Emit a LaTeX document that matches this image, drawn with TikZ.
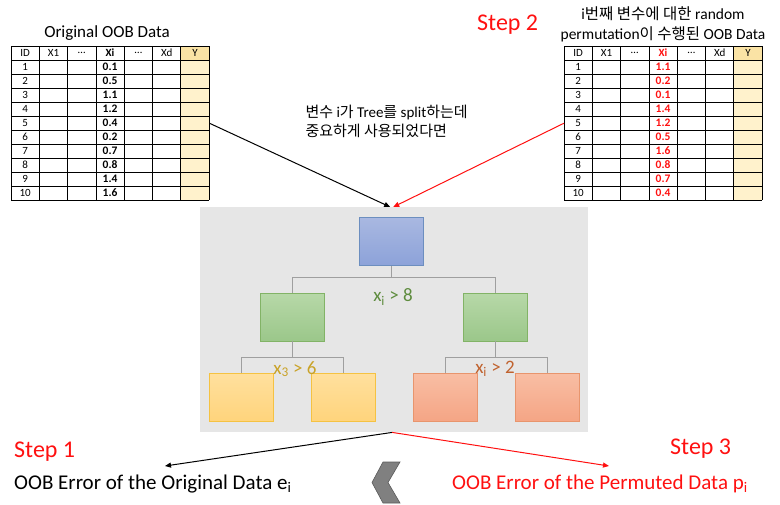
\documentclass[tikz,border=0pt]{standalone}
\usepackage{fontspec}
\setmainfont{Carlito}
\newfontfamily\krfont{Noto Sans CJK KR}
\usetikzlibrary{arrows.meta}
\newcommand{\kr}[1]{{\krfont #1}}
\definecolor{boxgray}{HTML}{E6E6E6}
\definecolor{ycell}{HTML}{FFF2CC}
\definecolor{yhead}{HTML}{FAE3A5}
\definecolor{blueT}{HTML}{A9B8E1}
\definecolor{blueB}{HTML}{8CA2D9}
\definecolor{blueD}{HTML}{6C8EBF}
\definecolor{greenT}{HTML}{B7D8A8}
\definecolor{greenB}{HTML}{9BC78A}
\definecolor{greenD}{HTML}{82B366}
\definecolor{yelT}{HTML}{FFE09E}
\definecolor{yelB}{HTML}{FFD47C}
\definecolor{yelD}{HTML}{F5C242}
\definecolor{salT}{HTML}{F8BEA4}
\definecolor{salB}{HTML}{F5A585}
\definecolor{salD}{HTML}{E8956D}
\definecolor{labgreen}{HTML}{5E8C3E}
\definecolor{labgold}{HTML}{C9A227}
\definecolor{labrust}{HTML}{C0622E}
\definecolor{stepred}{HTML}{FF1010}
\definecolor{chevfill}{HTML}{808080}
\definecolor{chevline}{HTML}{5A5A5A}
\tikzset{
  tabline/.style={draw=black,line width=0.8pt},
  cell/.style={font=\fontsize{11}{12}\selectfont},
  xval/.style={font=\fontsize{11.5}{12}\selectfont\bfseries},
  tnode/.style={minimum width=64pt,minimum height=48pt,inner sep=0pt,line width=0.8pt},
  branch/.style={draw=gray!75,line width=0.9pt},
  cond/.style={font=\fontsize{19}{21}\selectfont},
  steplab/.style={font=\fontsize{24}{26}\selectfont,text=stepred,anchor=west,inner sep=0pt},
  errlab/.style={font=\fontsize{21}{24}\selectfont,anchor=west,inner sep=0pt},
  feed/.style={line width=1pt,-{Triangle[length=6pt,width=5pt]}}
}
% OOB table: #1 left x, #2 name, #3 Xi values, #4 Xi colour
\newcommand{\oobtable}[4]{%
\begin{scope}[shift={(#1,46)}]
  \node[minimum width=198pt,minimum height=154pt,inner sep=0pt,anchor=north west] (#2) at (0,0) {};
  \fill[ycell] (169.8,0) rectangle (198,154);
  \fill[yhead] (169.8,0) rectangle (198,14);
  \foreach \c in {0,...,7} \draw[tabline] (\c*28.3,0) -- (\c*28.3,154);
  \foreach \r in {0,...,11} \draw[tabline] (0,\r*14) -- (198.1,\r*14);
  \foreach \h [count=\c from 0] in {ID,X1,\dots,{\bfseries\color{#4}Xi},\dots,Xd,Y}
    \node[cell] at (\c*28.3+14.15,7) {\h};
  \foreach \v [count=\r] in {#3} {
    \node[cell] at (14.15,\r*14+7) {\r};
    \node[xval,text=#4] at (3*28.3+14.15,\r*14+7) {\v};
  }
\end{scope}}

\begin{document}
\begin{tikzpicture}[x=1pt,y=-1pt]
\useasboundingbox (0,0) rectangle (780,504);
% tables
\node[font=\fontsize{17}{19}\selectfont] (origtitle) at (107,33) {Original OOB Data};
\oobtable{11}{origtab}{0.1,0.5,1.1,1.2,0.4,0.2,0.7,0.8,1.4,1.6}{black}
\node[align=center,font=\fontsize{15.5}{20}\selectfont] (permtitle) at (663,24)
  {i\kr{번째 변수에 대한} random\\permutation\kr{이 수행된} OOB Data};
\oobtable{564}{permtab}{1.1,0.2,0.1,1.4,1.2,0.5,1.6,0.8,0.7,0.4}{stepred}
\node[steplab] (step2) at (477,25) {Step 2};
\node[align=left,anchor=west,font=\fontsize{15}{19}\selectfont] (cond) at (302,121)
  {\kr{변수} i\kr{가} Tree\kr{를} split\kr{하는데}\\\kr{중요하게 사용되었다면}};
% tree
\node[fill=boxgray,minimum width=388pt,minimum height=225pt,inner sep=0pt,anchor=north west] (tree) at (200,207) {};
\node[tnode,draw=blueD,top color=blueT,bottom color=blueB] (root) at (391,241.5) {};
\node[tnode,draw=greenD,top color=greenT,bottom color=greenB] (gL) at (292,317) {};
\node[tnode,draw=greenD,top color=greenT,bottom color=greenB] (gR) at (495.5,317) {};
\node[tnode,draw=yelD,top color=yelT,bottom color=yelB] (yL) at (241.5,397) {};
\node[tnode,draw=yelD,top color=yelT,bottom color=yelB] (yR) at (343.5,397) {};
\node[tnode,draw=salD,top color=salT,bottom color=salB] (sL) at (445.5,397) {};
\node[tnode,draw=salD,top color=salT,bottom color=salB] (sR) at (547,397) {};
\draw[branch] (root.south) -- ++(0,12) -| (gL.north);
\draw[branch] (root.south) -- ++(0,12) -| (gR.north);
\draw[branch] (gL.south) -- ++(0,16) -| (yL.north);
\draw[branch] (gL.south) -- ++(0,16) -| (yR.north);
\draw[branch] (gR.south) -- ++(0,16) -| (sL.north);
\draw[branch] (gR.south) -- ++(0,16) -| (sR.north);
\node[cond,text=labgreen] (c1) at (393,297) {x\textsubscript{i} > 8};
\node[cond,text=labgold] (c2) at (295,369) {x\textsubscript{3} > 6};
\node[cond,text=labrust] (c3) at (495,369) {x\textsubscript{i} > 2};
% inputs
\draw[feed,black] (origtab.east) -- ([xshift=-4pt]tree.north);
\draw[feed,stepred] (permtab.west) -- ([xshift=-1pt]tree.north);
% outputs
\coordinate (eOut) at (165,466);
\coordinate (pOut) at (609,466);
\draw[feed,black] ([xshift=-2pt]tree.south) -- (eOut);
\draw[feed,stepred] ([xshift=-2pt]tree.south) -- (pOut);
\node[steplab] (step1) at (14,452) {Step 1};
\node[errlab] (eErr) at (14,484) {OOB Error of the Original Data e\textsubscript{i}};
\node[steplab] (step3) at (670,449) {Step 3};
\node[errlab,text=stepred] (pErr) at (452,484) {OOB Error of the Permuted Data p\textsubscript{i}};
% less-than chevron
\fill[chevfill,draw=chevline,line width=0.6pt]
  (383,462) -- (400,462) -- (388,482.5) -- (400,503) -- (383,503) -- (372,482.5) -- cycle;
\end{tikzpicture}
\end{document}
